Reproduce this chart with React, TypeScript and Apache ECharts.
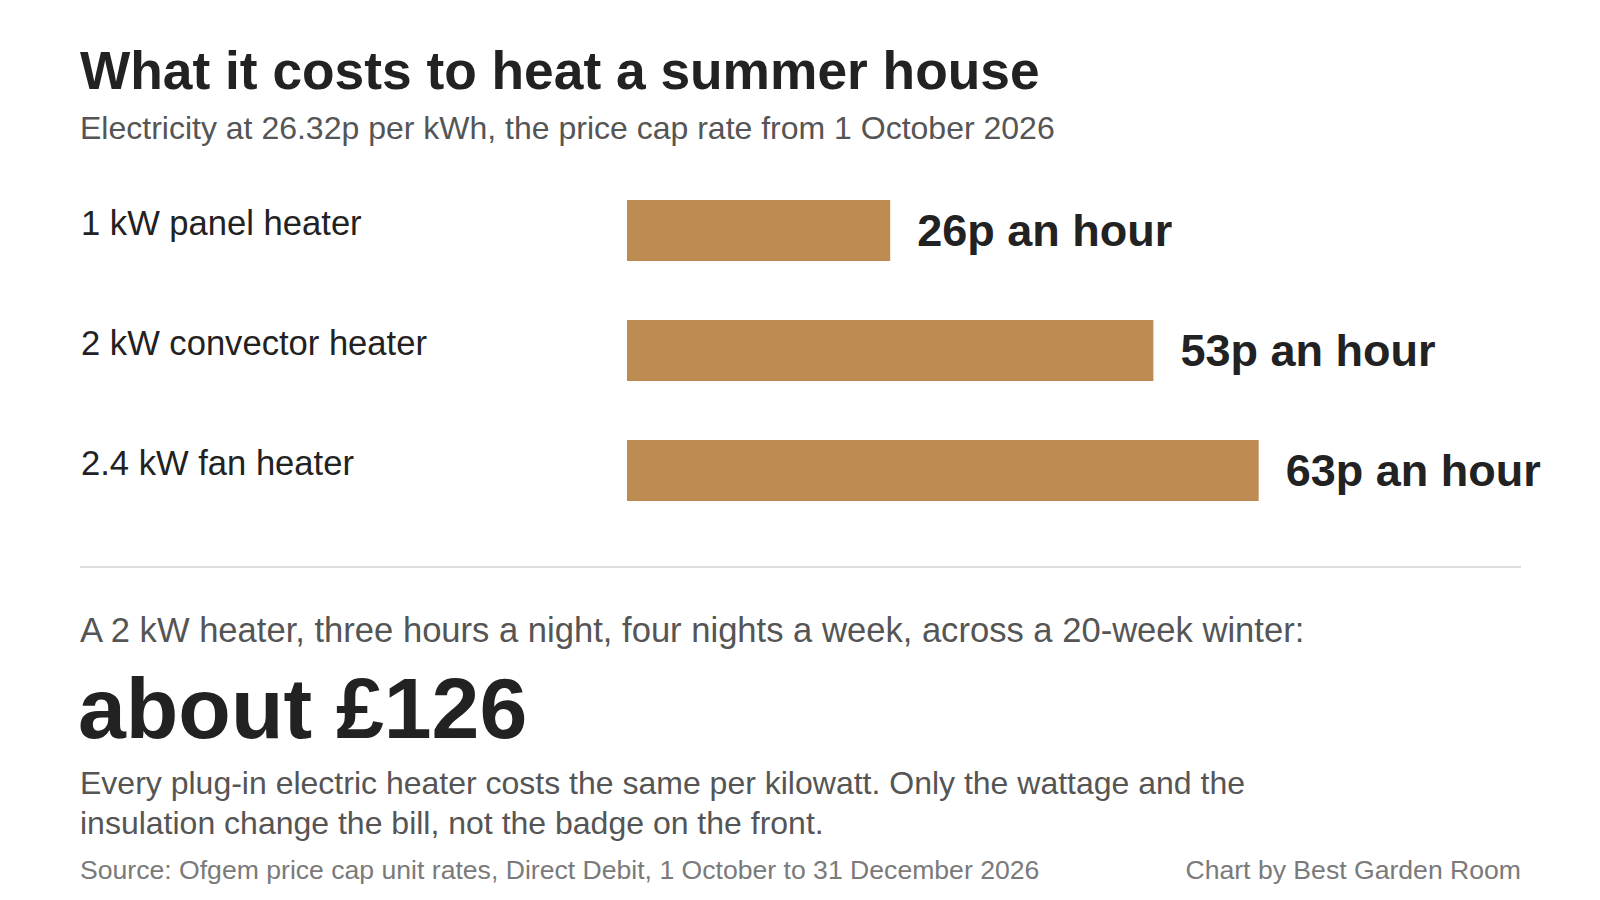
import React, { useEffect, useRef } from "react";
import * as echarts from "echarts";

const categories = ["1 kW panel heater", "2 kW convector heater", "2.4 kW fan heater"];
const costPerHour = [26.32, 52.64, 63.17];
const titleText = "What it costs to heat a summer house";
const subtitleText = "Electricity at 26.32p per kWh, the price cap rate from 1 October 2026";
const scenarioText = "A 2 kW heater, three hours a night, four nights a week, across a 20-week winter:";
const totalText = "about £126";
const noteLines = [
  "Every plug-in electric heater costs the same per kilowatt. Only the wattage and the",
  "insulation change the bill, not the badge on the front.",
];
const sourceText = "Source: Ofgem price cap unit rates, Direct Debit, 1 October to 31 December 2026";
const creditText = "Chart by Best Garden Room";

const FONT = '"Liberation Sans", Arial, Helvetica, sans-serif';

export default function App() {
  const ref = useRef<HTMLDivElement>(null);
  useEffect(() => {
    if (!ref.current) return;
    const chart = echarts.init(ref.current, undefined, { renderer: "svg" });
    const txt = (x: number, y: number, text: string, size: number, color: string, weight: any = "normal", align: any = "left") => ({
      type: "text",
      x,
      y,
      style: { text, fontSize: size, fill: color, fontWeight: weight, fontFamily: FONT, align, verticalAlign: "middle" },
    });
    chart.setOption({
      animation: false,
      backgroundColor: "#ffffff",
      textStyle: { fontFamily: FONT },
      grid: { left: 627, right: 173, top: 170.5, height: 360, containLabel: false },
      xAxis: { type: "value", min: 0, max: 80, show: false },
      yAxis: {
        type: "category",
        data: categories,
        inverse: true,
        axisLine: { show: false },
        axisTick: { show: false },
        splitLine: { show: false },
        axisLabel: {
          align: "left",
          verticalAlign: "bottom",
          lineHeight: 16,
          margin: 546,
          fontSize: 34.6,
          color: "#222222",
          fontFamily: FONT,
        },
      },
      series: [
        {
          type: "bar",
          data: costPerHour,
          barWidth: 61,
          itemStyle: { color: "#BE8C52" },
          label: {
            show: true,
            position: "right",
            distance: 27,
            fontSize: 45,
            fontWeight: "bold",
            color: "#222222",
            fontFamily: FONT,
            formatter: (p: any) => `${Math.round(p.value)}p an hour`,
          },
        },
      ],
      graphic: [
        txt(80, 70, titleText, 53.3, "#222222", "bold"),
        txt(80, 128, subtitleText, 32, "#555555"),
        {
          type: "line",
          shape: { x1: 80, y1: 567, x2: 1521, y2: 567 },
          style: { stroke: "#dddddd", lineWidth: 2 },
        },
        txt(80, 630, scenarioText, 34.6, "#555555"),
        txt(78, 708, totalText, 86, "#222222", "bold"),
        txt(80, 783, noteLines[0], 32, "#555555"),
        txt(80, 823, noteLines[1], 32, "#555555"),
        txt(80, 870, sourceText, 26.6, "#7a7a7a"),
        txt(1521, 870, creditText, 26.6, "#7a7a7a", "normal", "right"),
      ],
    });
    return () => chart.dispose();
  }, []);
  return (
    <div
      ref={ref}
      style={{ position: "fixed", left: 0, top: 0, width: 1600, height: 900, background: "#ffffff" }}
    />
  );
}
